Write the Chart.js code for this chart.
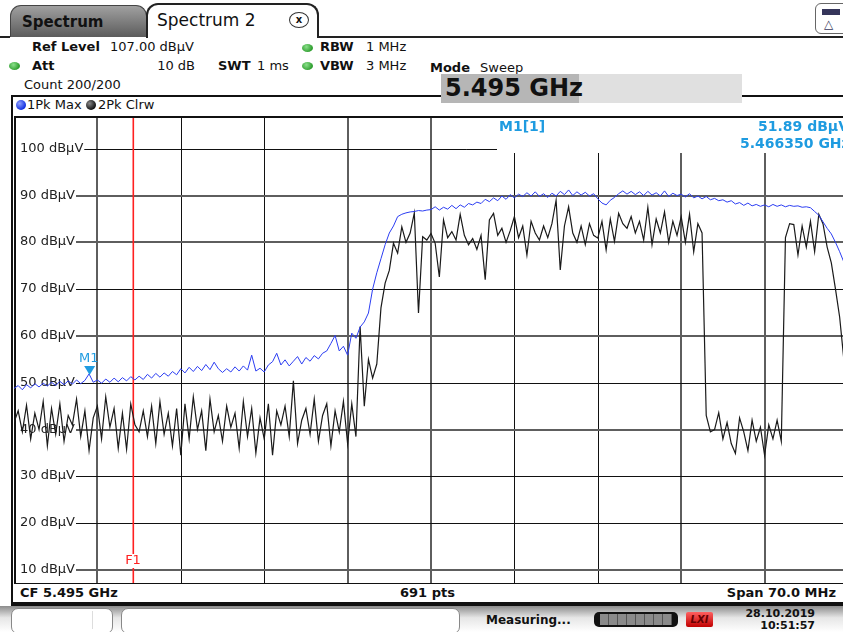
<!DOCTYPE html>
<html>
<head>
<meta charset="utf-8">
<script src="https://cdn.jsdelivr.net/npm/chart.js@4.4.1/dist/chart.umd.min.js"></script>
<style>
  body { margin:0; width:843px; height:632px; overflow:hidden; background:#fff; position:relative;
         font-family:"DejaVu Sans", Verdana, sans-serif; color:#111; }
  .t { position:absolute; white-space:nowrap; font-size:13px; line-height:16px; }
  .b { font-weight:bold; }
  .box { position:absolute; box-sizing:border-box; }
  .dot { position:absolute; width:11px; height:8px; border-radius:50%;
         background:radial-gradient(circle at 40% 35%, #8be08b, #2f9e2f 70%); }
  #plot { position:absolute; left:14px; top:116px; }
</style>
</head>
<body>
<!-- tabs -->
<div class="box" style="left:10px;top:5px;width:137px;height:32px;border:1px solid #444;border-bottom:none;border-radius:11px 11px 0 0;background:linear-gradient(#a0a0a0,#5c5c5c);"></div>
<div class="t b" style="left:22px;top:12px;font-size:15px;line-height:20px;">Spectrum</div>
<div class="box" style="left:146px;top:3px;width:173px;height:35px;border:2px solid #222;border-bottom:none;border-radius:12px 12px 0 0;background:#fff;"></div>
<div class="t" style="left:157px;top:10px;font-size:17px;line-height:20px;">Spectrum 2</div>
<div class="box" style="left:289px;top:12px;width:20px;height:16px;border:1.5px solid #333;border-radius:50%;font:bold 10px 'DejaVu Sans';text-align:center;line-height:13px;">x</div>
<div class="box" style="left:0;top:36px;width:10px;height:2px;background:#222;"></div>
<div class="box" style="left:318px;top:36px;width:525px;height:2px;background:#222;"></div>
<div class="box" style="left:815px;top:3px;width:34px;height:31px;border:1px solid #666;border-radius:6px;background:#fff;"></div>
<div class="box" style="left:822px;top:9px;width:18px;height:6px;background:#35355a;border:1px solid #35355a;"></div>
<div class="t" style="left:824px;top:16px;font-size:12px;color:#35355a;">&#9651;</div>

<!-- settings -->
<div class="t b" style="left:32px;top:39px;">Ref Level</div>
<div class="t" style="left:110px;top:39px;">107.00 dBµV</div>
<div class="dot" style="left:302px;top:44px;"></div>
<div class="t b" style="left:320px;top:39px;">RBW</div>
<div class="t" style="left:366px;top:39px;">1 MHz</div>
<div class="dot" style="left:9px;top:62px;"></div>
<div class="t b" style="left:32px;top:58px;">Att</div>
<div class="t" style="right:648px;top:58px;">10 dB</div>
<div class="t b" style="left:218px;top:58px;">SWT</div>
<div class="t" style="left:257px;top:58px;">1 ms</div>
<div class="dot" style="left:302px;top:62px;"></div>
<div class="t b" style="left:320px;top:58px;">VBW</div>
<div class="t" style="left:366px;top:58px;">3 MHz</div>
<div class="t b" style="left:430px;top:60px;">Mode</div>
<div class="t" style="left:480px;top:60px;">Sweep</div>
<div class="t" style="left:24px;top:77px;">Count 200/200</div>
<div class="box" style="left:441px;top:74px;width:301px;height:29px;background:#e0e0e0;"></div>
<div class="box" style="left:441px;top:74px;width:138px;height:29px;background:#b6b6b6;"></div>
<div class="t b" style="left:445px;top:74px;font-size:24px;line-height:28px;">5.495 GHz</div>
<div class="box" style="left:11px;top:95px;width:430px;height:2px;background:#111;"></div>
<div class="box" style="left:742px;top:95px;width:101px;height:2px;background:#111;"></div>

<!-- diagram pane -->
<div class="box" style="left:11px;top:95px;width:2px;height:510px;background:#111;"></div>
<div class="box" style="left:16px;top:100px;width:10px;height:10px;border-radius:50%;background:radial-gradient(circle at 35% 35%, #8fa0ff, #1330e0 70%);"></div>
<div class="t" style="left:27px;top:97px;">1Pk Max</div>
<div class="box" style="left:86px;top:100px;width:10px;height:10px;border-radius:50%;background:radial-gradient(circle at 35% 35%, #888, #111 70%);"></div>
<div class="t" style="left:98px;top:97px;">2Pk Clrw</div>

<canvas id="plot" width="834" height="468"></canvas>

<div class="t b" style="left:20px;top:585px;">CF 5.495 GHz</div>
<div class="t b" style="left:400px;top:585px;">691 pts</div>
<div class="t b" style="right:7px;top:585px;">Span 70.0 MHz</div>
<div class="box" style="left:11px;top:602px;width:832px;height:4px;background:#111;"></div>

<!-- status bar -->
<div class="box" style="left:0;top:606px;width:843px;height:26px;background:linear-gradient(#8c8c8c,#e6e6e6 45%,#fff);"></div>
<div class="box" style="left:11px;top:608px;width:102px;height:26px;border:1px solid #888;border-radius:7px;background:#fff;"></div>
<div class="box" style="left:92px;top:611px;width:1px;height:18px;background:#ddd;"></div>
<div class="box" style="left:121px;top:608px;width:339px;height:26px;border:1px solid #888;border-radius:7px;background:#fff;"></div>
<div class="t b" style="left:486px;top:612px;font-size:12px;">Measuring...</div>
<div class="box" style="left:594px;top:612px;width:84px;height:15px;border-radius:5px;background:#111;"></div>
<div class="box" style="left:600px;top:614px;width:72px;height:11px;background:repeating-linear-gradient(90deg,#8a8a8a 0 8px,#555 8px 9px);"></div>
<div class="box" style="left:686px;top:612px;width:27px;height:15px;background:linear-gradient(#ff6060,#c00000);border-radius:2px;font:italic bold 10px 'DejaVu Sans';color:#600;text-align:center;line-height:15px;">LXI</div>
<div class="t b" style="right:28px;top:607px;font-size:11px;line-height:14px;">28.10.2019</div>
<div class="t b" style="right:28px;top:619px;font-size:11px;line-height:14px;">10:51:57</div>

<script>
// sweep: 5.460 .. 5.530 GHz, values read every 0.35 MHz
const sweepStartMHz = 5460;
const sweepStepMHz = 0.35;
const spanStartMHz = 5460;
const spanStopMHz = 5530;
const refLevel = 107;
const bottomLevel = 7;

// 1Pk Max trace (dBµV)
const pkMaxLevels = [
  48.8, 49.4, 48.5, 49.6, 48.9, 49.8, 49.1, 49.9, 49.3, 50.1,
  49.4, 50.3, 49.6, 50.4, 49.7, 50.6, 49.8, 50.5, 51.9, 50.1,
  50.6, 49.9, 50.8, 50.1, 51.0, 50.2, 51.1, 50.4, 51.3, 50.6,
  51.4, 50.7, 51.8, 51.0, 52.0, 51.2, 52.1, 51.4, 52.4, 51.7,
  53.0, 52.1, 53.3, 52.4, 53.5, 52.6, 53.9, 52.8, 54.4, 53.0,
  52.2, 53.0, 52.3, 53.4, 52.5, 53.6, 52.7, 55.9, 52.5, 53.1,
  52.3, 53.8, 54.5, 56.3, 53.8, 54.9, 53.6, 54.6, 55.6, 54.0,
  55.4, 54.6, 55.8, 55.1, 56.3, 56.8, 58.4, 60.1, 56.8, 57.8,
  55.9, 60.6, 59.5, 61.9, 63.0, 64.9, 70.0, 73.5, 76.5, 79.5,
  82.0, 83.5, 85.5, 86.0, 86.3, 86.5, 86.6, 86.8, 86.7, 86.9,
  87.0, 87.6, 86.9, 87.5, 87.1, 87.9, 87.2, 88.0, 87.5, 88.3,
  88.0, 88.6, 88.3, 89.2, 88.7, 89.5, 88.9, 89.9, 89.2, 90.2,
  89.5, 90.3, 89.8, 90.6, 89.9, 90.8, 89.8, 90.4, 89.6, 90.5,
  89.9, 90.9, 90.2, 91.2, 90.0, 90.8, 90.1, 90.7, 89.9, 90.4,
  89.3, 88.4, 88.0, 89.0, 89.6, 90.4, 91.0, 90.3, 90.9, 90.2,
  90.8, 90.0, 90.9, 90.1, 90.6, 89.9, 91.0, 89.8, 90.5, 90.0,
  90.3, 89.7, 90.4, 89.5, 89.9, 89.3, 89.8, 89.1, 89.4, 88.9,
  89.1, 88.6, 88.9, 88.2, 88.5, 87.9, 88.4, 87.8, 88.1, 87.7,
  88.0, 87.6, 88.1, 87.7, 88.0, 87.6, 87.9, 87.7, 87.8, 87.5,
  87.6, 87.4, 86.6, 85.8, 84.4, 83.0, 81.8, 80.0, 78.0, 75.8, 72.5
];

// 2Pk Clrw trace (dBµV)
const pkClrwLevels = [
  41.5, 44.0, 39.5, 45.2, 38.0, 43.5, 40.0, 46.0, 36.5, 44.5,
  39.0, 45.5, 37.5, 43.0, 41.0, 46.5, 38.5, 44.0, 35.5, 42.5,
  45.0, 38.0, 47.0, 40.5, 44.5, 36.0, 43.5, 35.8, 45.5, 41.0,
  39.5, 44.0, 38.5, 45.0, 37.0, 46.0, 39.0, 43.5, 36.5, 44.5,
  34.5, 45.5, 38.0, 47.0, 40.0, 44.0, 35.5, 46.5, 39.5, 43.0,
  37.5, 45.0, 40.5, 43.5, 36.0, 46.0, 38.5, 44.5, 35.0, 42.5,
  38.0, 45.5, 34.5, 44.0, 41.0, 45.0, 38.5, 50.4, 37.0, 42.0,
  44.5, 39.0, 46.5, 37.5, 43.0, 45.5, 36.5, 44.0, 39.5, 46.0,
  37.0, 45.5, 38.5, 62.0, 45.0, 55.0, 51.0, 54.0, 66.0, 71.3,
  74.0, 79.8, 77.7, 83.3, 80.0, 82.0, 86.3, 64.9, 81.2, 80.5,
  81.9, 79.8, 72.6, 84.8, 81.0, 82.3, 80.5, 86.0, 81.5, 79.5,
  80.8, 78.5, 81.5, 72.0, 84.8, 86.2, 81.5, 83.0, 80.0, 82.5,
  85.5, 81.0, 83.5, 77.3, 84.5, 82.0, 80.5, 83.5, 81.0, 84.0,
  89.0, 74.1, 83.5, 87.6, 82.0, 80.0, 83.5, 79.5, 84.0, 81.5,
  80.9, 84.5, 78.4, 85.0, 80.2, 86.2, 84.0, 83.0, 85.5, 82.0,
  84.5, 80.5, 87.5, 79.5, 85.0, 82.0, 86.5, 80.0, 84.5, 81.5,
  85.5, 80.0, 86.0, 78.0, 84.0, 82.0, 43.0, 39.5, 40.0, 43.6,
  38.0, 41.5, 37.0, 34.9, 42.5, 39.5, 35.5, 42.0, 37.5, 40.5,
  34.5, 41.0, 38.0, 42.0, 37.5, 81.0, 84.0, 83.8, 77.3, 83.5,
  79.0, 84.5, 78.0, 86.0, 84.0, 79.0, 75.6, 70.0, 64.0, 55.0, 52.0
];

// grid and labels
const freqGridMHz = [5467, 5474, 5481, 5488, 5495, 5502, 5509, 5516, 5523];
const levelGrid = [100, 90, 80, 70, 60, 50, 40, 30, 20, 10];
const levelLabels = ['100 dBµV', '90 dBµV', '80 dBµV', '70 dBµV', '60 dBµV',
                     '50 dBµV', '40 dBµV', '30 dBµV', '20 dBµV', '10 dBµV'];

// markers
const f1LineMHz = 5470;
const m1FreqMHz = 5466.35;
const m1Level = 51.89;
const m1Texts = ['M1[1]', '51.89 dBµV', '5.466350 GHz'];

const freqMHz = pkMaxLevels.map((_, i) => +(sweepStartMHz + i * sweepStepMHz).toFixed(2));

const FONT = '"DejaVu Sans", Verdana, sans-serif';
const MARKER_BLUE = '#1e9be0';
const F1_RED = '#ff2020';

const analyzerGrid = {
  id: 'analyzerGrid',
  beforeDatasetsDraw(chart) {
    const { ctx, chartArea: a, scales: { x, y } } = chart;
    ctx.save();
    // vertical divisions
    freqGridMHz.forEach((f, k) => {
      const px = Math.round(x.getPixelForValue(f));
      const gray = [0, 3, 4, 7, 8].includes(k);
      ctx.strokeStyle = gray ? '#5e5e5e' : '#111';
      ctx.lineWidth = gray ? 2 : 1;
      ctx.beginPath();
      ctx.moveTo(gray ? px : px + 0.5, a.top);
      ctx.lineTo(gray ? px : px + 0.5, a.bottom);
      ctx.stroke();
    });
    // horizontal divisions with labels inside the grid
    ctx.font = '13px ' + FONT;
    ctx.textBaseline = 'middle';
    levelGrid.forEach((lv, k) => {
      const py = Math.round(y.getPixelForValue(lv));
      ctx.fillStyle = '#222';
      ctx.fillText(levelLabels[k], a.left + 6, py);
      const w = ctx.measureText(levelLabels[k]).width;
      const gray = [1, 2, 4, 6, 9].includes(k);
      ctx.strokeStyle = gray ? '#5e5e5e' : '#111';
      ctx.lineWidth = gray ? 2 : 1;
      ctx.beginPath();
      ctx.moveTo(a.left + 7 + w, gray ? py : py + 0.5);
      ctx.lineTo(a.right, gray ? py : py + 0.5);
      ctx.stroke();
    });
    // marker readout box
    ctx.fillStyle = '#fff';
    ctx.fillRect(483, a.top + 2, a.right - 483, 35);
    ctx.fillStyle = MARKER_BLUE;
    ctx.font = 'bold 14px ' + FONT;
    ctx.fillText(m1Texts[0], 485, a.top + 11);
    ctx.fillText(m1Texts[1], 744, a.top + 11);
    ctx.fillText(m1Texts[2], 726, a.top + 28);
    // F1 frequency line
    const fx = Math.round(x.getPixelForValue(f1LineMHz));
    ctx.fillStyle = F1_RED;
    ctx.fillRect(fx - 0.5, a.top, 1.6, a.bottom - 30 - a.top);
    ctx.fillRect(fx - 0.5, a.bottom - 16, 1.6, 16);
    ctx.font = '13px ' + FONT;
    ctx.textAlign = 'center';
    ctx.fillText('F1', fx, a.bottom - 23);
    // frame
    ctx.fillStyle = '#111';
    ctx.fillRect(a.left, a.top, 2, a.bottom - a.top);
    ctx.fillRect(a.left, a.top, a.right - a.left, 2);
    ctx.fillRect(a.left, a.bottom - 1, a.right - a.left, 2);
    ctx.restore();
  },
  afterDatasetsDraw(chart) {
    const { ctx, scales: { x, y } } = chart;
    const mx = x.getPixelForValue(m1FreqMHz);
    const my = y.getPixelForValue(m1Level);
    ctx.save();
    ctx.fillStyle = MARKER_BLUE;
    ctx.beginPath();
    ctx.moveTo(mx, my + 1);
    ctx.lineTo(mx - 5.5, my - 8);
    ctx.lineTo(mx + 5.5, my - 8);
    ctx.closePath();
    ctx.fill();
    ctx.font = '13px ' + FONT;
    ctx.textAlign = 'center';
    ctx.textBaseline = 'middle';
    ctx.fillText('M1', mx - 1, my - 15);
    ctx.restore();
  }
};

new Chart(document.getElementById('plot'), {
  type: 'line',
  data: {
    datasets: [
      {
        label: '1Pk Max',
        data: freqMHz.map((f, i) => ({ x: f, y: pkMaxLevels[i] })),
        borderColor: '#2b3df2',
        borderWidth: 1,
        order: 0
      },
      {
        label: '2Pk Clrw',
        data: freqMHz.map((f, i) => ({ x: f, y: pkClrwLevels[i] })),
        borderColor: '#1a1a1a',
        borderWidth: 1.2,
        order: 1
      }
    ]
  },
  options: {
    responsive: false,
    animation: false,
    layout: { padding: 0 },
    elements: { point: { radius: 0 }, line: { tension: 0 } },
    scales: {
      x: { type: 'linear', min: spanStartMHz, max: spanStopMHz, display: false },
      y: { type: 'linear', min: bottomLevel, max: refLevel, display: false }
    },
    plugins: { legend: { display: false }, tooltip: { enabled: false } }
  },
  plugins: [analyzerGrid]
});
</script>
</body>
</html>
